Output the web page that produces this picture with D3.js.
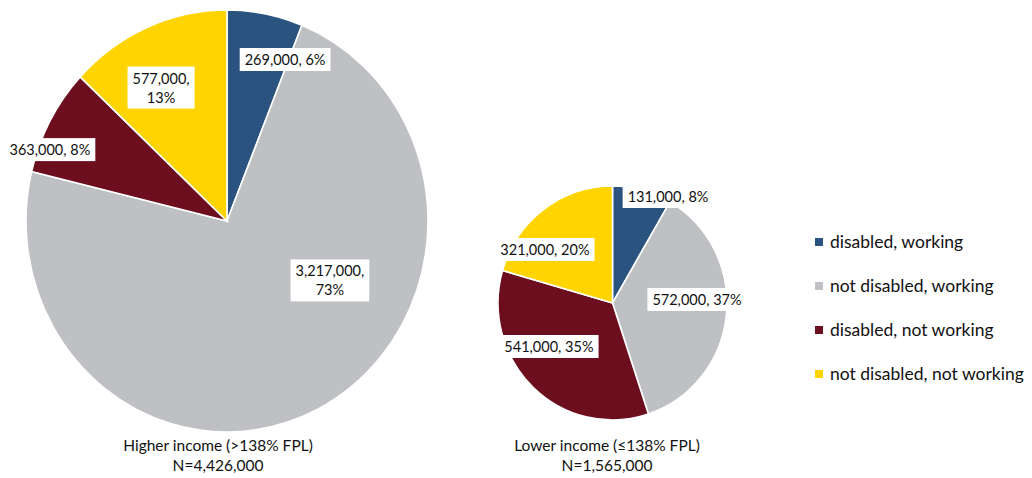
<!DOCTYPE html>
<html>
<head>
<meta charset="utf-8">
<script src="https://cdn.jsdelivr.net/npm/d3@7"></script>
<style>
  html, body { margin: 0; padding: 0; background: #fff; }
  svg { display: block; font-family: 'Lato', 'Open Sans', sans-serif; }
</style>
</head>
<body>
<svg id="chart" width="1032" height="478"></svg>
<script>
// Kategorije i boje
const categories = ['disabled, working', 'not disabled, working', 'disabled, not working', 'not disabled, not working'];
const colors     = ['#2B5380', '#BFC0C4', '#6D0E1F', '#FFD400'];

// Vrijednosti po skupini
const higherValues = [269000, 3217000, 363000, 577000];
const higherPct    = ['6%', '73%', '8%', '13%'];
const lowerValues  = [131000, 572000, 541000, 321000];
const lowerPct     = ['8%', '37%', '35%', '20%'];

const higherTitle = ['Higher income (>138% FPL)', 'N=4,426,000'];
const lowerTitle  = ['Lower income (≤138% FPL)', 'N=1,565,000'];

// Layout: centar, radijusi, pozicije labela (udio radijusa), prijelom reda
const pies = [
  { values: higherValues, pct: higherPct, title: higherTitle,
    cx: 227, cy: 221, rx: 201, ry: 211, titleX: 218,
    lab: [[0.289, -0.763, false], [0.512, 0.284, true], [-0.881, -0.336, false], [-0.328, -0.630, true]] },
  { values: lowerValues, pct: lowerPct, title: lowerTitle,
    cx: 612.5, cy: 303, rx: 114.5, ry: 117, titleX: 607,
    lab: [[0.485, -0.906, false], [0.738, -0.026, false], [-0.555, 0.376, false], [-0.590, -0.453, false]] }
];

const svg = d3.select('#chart');
const fmt = d3.format(',');
const pie = d3.pie().sort(null).value(d => d);

pies.forEach(p => {
  const g = svg.append('g')
    .attr('transform', `translate(${p.cx},${p.cy}) scale(1,${p.ry / p.rx})`);
  const arc = d3.arc().innerRadius(0).outerRadius(p.rx);
  g.selectAll('path').data(pie(p.values)).join('path')
    .attr('d', arc)
    .attr('fill', (d, i) => colors[i])
    .attr('stroke', '#fff').attr('stroke-width', 1.6)
    .attr('vector-effect', 'non-scaling-stroke');

  // Labele u bijelim kućicama
  p.values.forEach((v, i) => {
    const [fx, fy, wrap] = p.lab[i];
    const lx = p.cx + fx * p.rx, ly = p.cy + fy * p.ry;
    const lines = wrap ? [fmt(v) + ',', p.pct[i]] : [fmt(v) + ', ' + p.pct[i]];
    const lg = svg.append('g');
    const rect = lg.append('rect').attr('fill', '#fff');
    const lh = 19;
    const t = lg.append('text')
      .attr('text-anchor', 'middle')
      .attr('font-size', 14.5).attr('fill', '#111');
    lines.forEach((s, k) => {
      t.append('tspan').attr('x', lx)
        .attr('y', ly + (k - (lines.length - 1) / 2) * lh + 5)
        .text(s);
    });
    const bb = t.node().getBBox();
    rect.attr('x', bb.x - 5).attr('y', bb.y - 3)
      .attr('width', bb.width + 10).attr('height', bb.height + 6);
  });

  // Naslov ispod pite
  p.title.forEach((s, k) => {
    svg.append('text')
      .attr('x', p.titleX).attr('y', 451 + k * 20)
      .attr('text-anchor', 'middle')
      .attr('font-size', 15.5).attr('fill', '#111')
      .text(s);
  });
});

// Legenda
const legY = d3.scalePoint().domain(categories).range([242, 374]);
const leg = svg.append('g');
categories.forEach((c, i) => {
  leg.append('rect')
    .attr('x', 815).attr('y', legY(c) - 4)
    .attr('width', 8).attr('height', 8)
    .attr('fill', colors[i]);
  leg.append('text')
    .attr('x', 830).attr('y', legY(c) + 6)
    .attr('font-size', 17.5).attr('fill', '#111')
    .text(c);
});
</script>
</body>
</html>
